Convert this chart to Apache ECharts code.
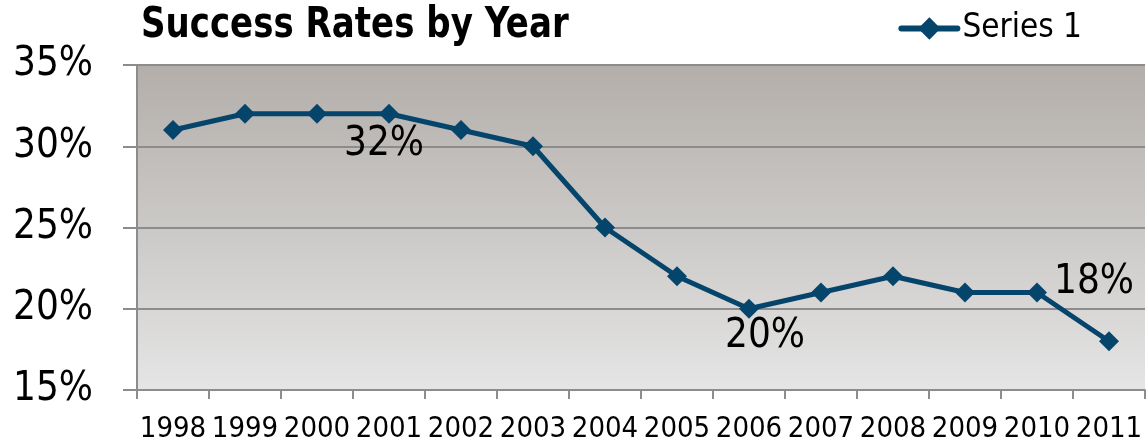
<!DOCTYPE html>
<html>
<head>
<meta charset="utf-8">
<script src="https://cdn.jsdelivr.net/npm/echarts@6/dist/echarts.min.js"></script>
<style>
html,body{margin:0;padding:0;background:#fff;}
#chart{width:1147px;height:444px;}
</style>
</head>
<body>
<div id="chart"></div>
<script>
var categories = ['1998','1999','2000','2001','2002','2003','2004','2005','2006','2007','2008','2009','2010','2011'];
var seriesName = 'Series 1';
var values = [31, 32, 32, 32, 31, 30, 25, 22, 20, 21, 22, 21, 21, 18];
var yTicks = [15, 20, 25, 30, 35];
var labelledPoints = [3, 8, 13];
var titleText = 'Success Rates by Year';

var FONT = "'DejaVu Sans Condensed', 'Liberation Sans Narrow', 'Arial Narrow', sans-serif";
var LINE = '#06456b';
var SYM = 20;
var labelOffsets = { 3: [-5, 31], 8: [16, 28], 13: [-15, -59] };

var seriesData = values.map(function (v, i) {
  var item = { value: v };
  if (labelledPoints.indexOf(i) >= 0) {
    var o = labelOffsets[i];
    item.label = {
      show: true,
      position: [SYM / 2 + o[0], SYM / 2 + o[1]],
      align: 'center',
      verticalAlign: 'middle',
      formatter: function (p) { return p.value + '%'; },
      fontFamily: FONT,
      fontSize: 40,
      color: '#000'
    };
  }
  return item;
});

var chart = echarts.init(document.getElementById('chart'));
chart.setOption({
  animation: false,
  graphic: [{
    type: 'text',
    left: 141,
    top: 4,
    scaleX: 0.88,
    originX: 0,
    style: {
      text: titleText,
      font: "bold 43px 'DejaVu Sans Condensed', sans-serif",
      fill: '#000'
    }
  }],
  legend: {
    data: [seriesName],
    right: 60,
    top: 7,
    itemWidth: 56,
    itemHeight: 28,
    itemGap: 4,
    textStyle: { fontFamily: FONT, fontSize: 33, color: '#000' },
    itemStyle: { color: LINE },
    lineStyle: { width: 6, color: LINE, cap: 'round' }
  },
  grid: {
    left: 137, right: 2, top: 65, bottom: 54,
    show: true,
    borderWidth: 0,
    backgroundColor: new echarts.graphic.LinearGradient(0, 0, 0, 1, [
      { offset: 0, color: '#b3aeaa' },
      { offset: 0.5, color: '#cbc9c7' },
      { offset: 1, color: '#e5e5e5' }
    ])
  },
  xAxis: {
    type: 'category',
    data: categories,
    boundaryGap: true,
    axisLine: { lineStyle: { color: '#8c8c8c', width: 2 } },
    axisTick: { show: true, length: 9, lineStyle: { color: '#8c8c8c', width: 2 } },
    axisLabel: { fontFamily: FONT, fontSize: 29, color: '#000', margin: 25, interval: 0 }
  },
  yAxis: {
    type: 'value',
    min: yTicks[0],
    max: yTicks[yTicks.length - 1],
    interval: 5,
    axisLine: { show: true, lineStyle: { color: '#8c8c8c', width: 2 } },
    axisTick: { show: true, length: 14, lineStyle: { color: '#8c8c8c', width: 2 } },
    axisLabel: { fontFamily: FONT, fontSize: 40, color: '#000', margin: 44, formatter: '{value}%' },
    splitLine: { show: true, lineStyle: { color: '#8c8c8c', width: 2 } }
  },
  series: [{
    name: seriesName,
    type: 'line',
    data: seriesData,
    symbol: 'diamond',
    symbolSize: SYM,
    lineStyle: { color: LINE, width: 5 },
    itemStyle: { color: LINE },
    label: { show: false },
    z: 3
  }]
});
</script>
</body>
</html>
